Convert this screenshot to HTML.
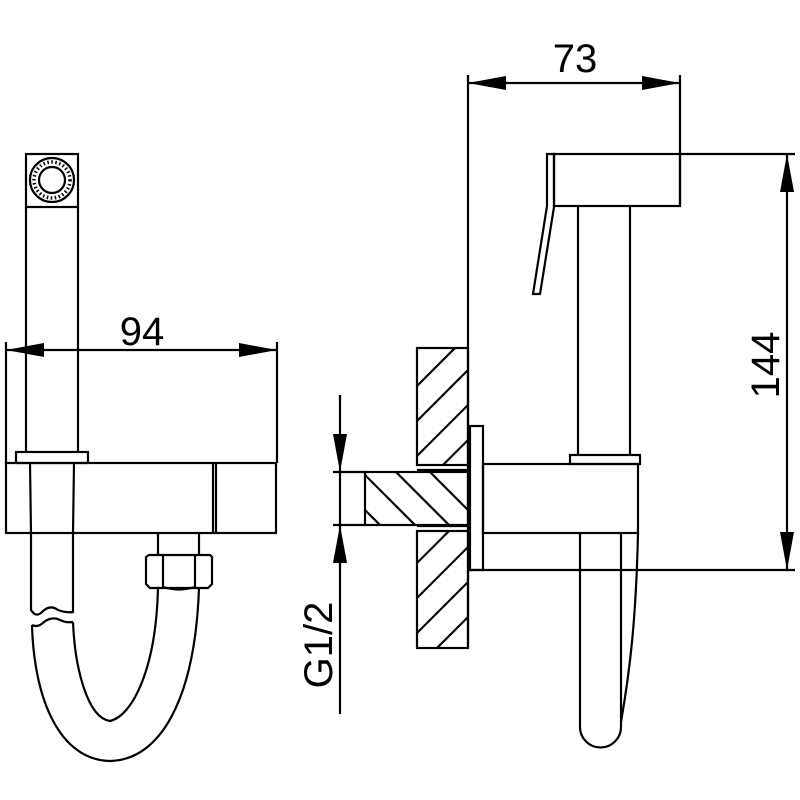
<!DOCTYPE html>
<html><head><style>html,body{margin:0;padding:0;background:#fff}svg{display:block}</style></head>
<body>
<svg width="800" height="800" viewBox="0 0 800 800" xmlns="http://www.w3.org/2000/svg">
<defs>
<clipPath id="cw1"><rect x="417" y="348" width="51" height="117"/></clipPath>
<clipPath id="cw2"><rect x="417" y="531" width="51" height="117"/></clipPath>
<clipPath id="cp"><rect x="365" y="472" width="103" height="53"/></clipPath>
</defs>
<g fill="none" stroke="#000" stroke-width="2.2">
<!-- LEFT VIEW -->
<rect x="26" y="154" width="52" height="53"/>
<circle cx="52" cy="180" r="22"/>
<circle cx="52" cy="180" r="13"/>
<circle cx="52" cy="180" r="18" stroke-width="3.5" stroke-dasharray="1.5 2.5"/>
<line x1="26" y1="207" x2="26" y2="452"/>
<line x1="78" y1="207" x2="78" y2="452"/>
<rect x="16" y="452" width="72" height="11"/>
<rect x="6" y="463" width="270" height="70"/>
<line x1="213" y1="463" x2="213" y2="533"/>
<line x1="216" y1="463" x2="216" y2="533"/>
<line x1="30" y1="463" x2="31" y2="533"/>
<line x1="74" y1="463" x2="73" y2="533"/>
<line x1="158" y1="533" x2="158" y2="555"/>
<line x1="199" y1="533" x2="199" y2="555"/>
<path d="M146 557 L149 555 L210 555 L212 557 L212 584 L208 588 L150 588 L146 584 Z"/>
<line x1="163" y1="555" x2="163" y2="588"/>
<line x1="195" y1="555" x2="195" y2="588"/>
<path d="M163 587 Q179 592 195 587"/>
<path d="M31 533 L31 610 Q36 618 42 612 Q50 604 58 610 Q66 613 73 612 L73 533"/>
<path d="M32 625 Q38 628 44 622 Q52 616 60 620 Q66 623 73 622"/>
<path d="M32 625 C34 700 60 760 110 761 C160 760 195 700 199 588"/>
<path d="M73 622 C75 670 88 718 110 721 C132 716 156 670 158 588"/>
<!-- dim 94 -->
<line x1="6" y1="342" x2="6" y2="463"/>
<line x1="277" y1="342" x2="277" y2="463"/>
<line x1="6" y1="350" x2="277" y2="350"/>
<!-- RIGHT VIEW -->
<line x1="468" y1="75" x2="468" y2="648"/>
<line x1="680" y1="75" x2="680" y2="206"/>
<line x1="468" y1="83" x2="680" y2="83"/>
<rect x="417" y="348" width="51" height="117"/>
<g clip-path="url(#cw1)">
<line x1="403" y1="400" x2="503" y2="300"/>
<line x1="403" y1="435" x2="503" y2="335"/>
<line x1="403" y1="470" x2="503" y2="370"/>
<line x1="403" y1="505" x2="503" y2="405"/>
</g>
<line x1="417" y1="470" x2="468" y2="470"/>
<rect x="365" y="472" width="103" height="53"/>
<g clip-path="url(#cp)">
<line x1="300" y1="445" x2="450" y2="595"/>
<line x1="300" y1="410" x2="450" y2="560"/>
<line x1="300" y1="376" x2="450" y2="526"/>
<line x1="300" y1="342" x2="500" y2="542"/>
</g>
<line x1="417" y1="526" x2="468" y2="526"/>
<rect x="417" y="531" width="51" height="117"/>
<g clip-path="url(#cw2)">
<line x1="403" y1="577" x2="503" y2="477"/>
<line x1="403" y1="612" x2="503" y2="512"/>
<line x1="403" y1="647" x2="503" y2="547"/>
<line x1="403" y1="682" x2="503" y2="582"/>
</g>
<rect x="470" y="426" width="13" height="144" fill="#fff"/>
<rect x="483" y="464" width="155" height="69"/>
<line x1="468" y1="570" x2="795" y2="570"/>
<rect x="570" y="455" width="70" height="9"/>
<line x1="578" y1="206" x2="578" y2="455"/>
<line x1="630" y1="206" x2="630" y2="455"/>
<rect x="554" y="154" width="126" height="52"/>
<line x1="680" y1="154" x2="795" y2="154"/>
<path d="M547 154 L554 154 L554 207 L540 294 L533 294 L547 206 Z"/>
<path d="M580 533 L580 727 A20.5 20.5 0 0 0 621 727 L621 533"/>
<path d="M638 533 C636 620 630 670 621 722"/>
<!-- dim 144 -->
<line x1="787" y1="154" x2="787" y2="570"/>
<!-- G1/2 -->
<line x1="340" y1="395" x2="340" y2="714"/>
<line x1="333" y1="472" x2="365" y2="472"/>
<line x1="333" y1="525" x2="365" y2="525"/>
</g>
<g fill="#000">
<polygon points="6,350 44,343 44,357"/>
<polygon points="277,350 239,343 239,357"/>
<polygon points="468,83 506,76 506,90"/>
<polygon points="680,83 642,76 642,90"/>
<polygon points="787,154 780,192 794,192"/>
<polygon points="787,570 780,532 794,532"/>
<polygon points="340,472 333,434 347,434"/>
<polygon points="340,525 333,563 347,563"/>
</g>
<g font-family="Liberation Sans, sans-serif" font-size="40" fill="#000" text-anchor="middle">
<text x="142" y="345">94</text>
<text x="575" y="72">73</text>
<text transform="translate(779,365) rotate(-90)">144</text>
<text transform="translate(332,645) rotate(-90)">G1/2</text>
</g>
</svg>
</body></html>
